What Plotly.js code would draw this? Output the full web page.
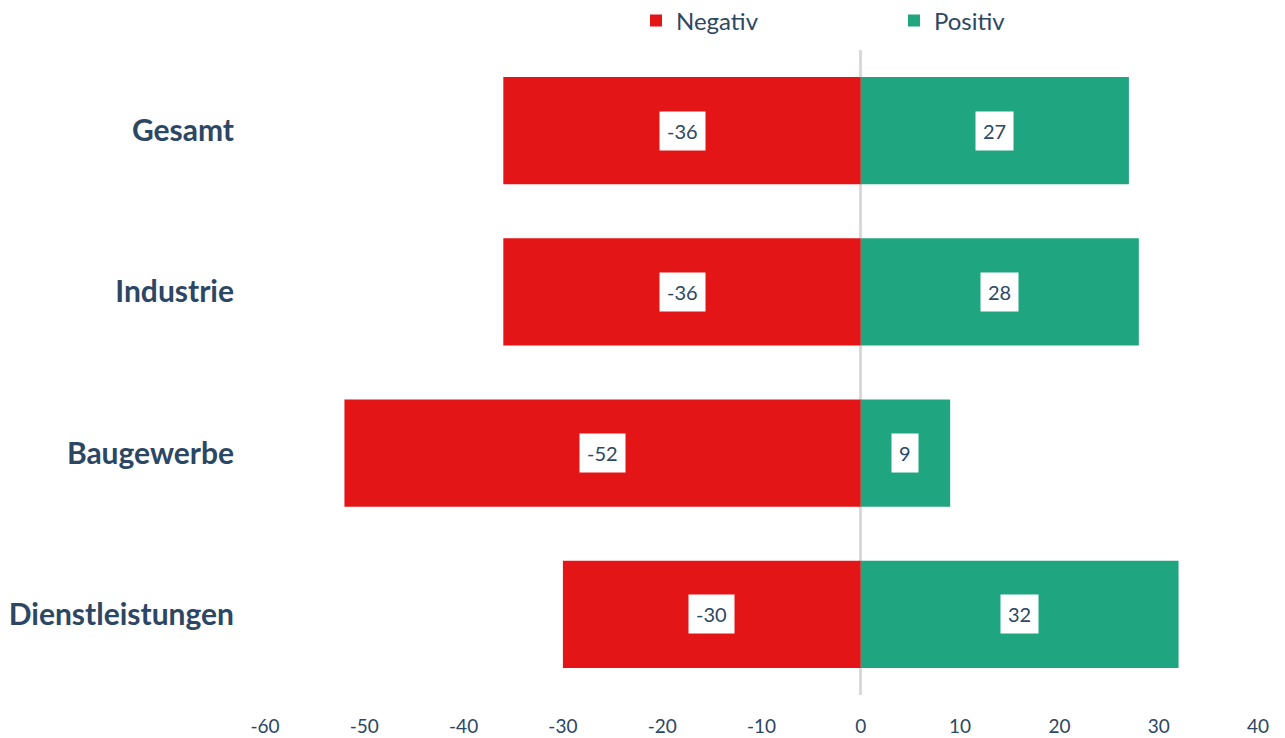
<!DOCTYPE html>
<html><head><meta charset="utf-8">
<script src="https://cdn.plot.ly/plotly-3.0.1.min.js"></script>
<style>html,body{margin:0;padding:0;background:#fff}#c{width:1285px;height:738px}</style>
</head><body><div id="c"></div>
<script>
const categories = ["Gesamt", "Industrie", "Baugewerbe", "Dienstleistungen"];
const negativ = [-36, -36, -52, -30];
const positiv = [27, 28, 9, 32];
const tickVals = [-60, -50, -40, -30, -20, -10, 0, 10, 20, 30, 40];
const tickText = ["-60", "-50", "-40", "-30", "-20", "-10", "0", "10", "20", "30", "40"];

const textColor = "#2c4763";
const font = "Lato, 'Open Sans', sans-serif";

const traces = [
  {type: "bar", orientation: "h", name: "Negativ", y: categories, x: negativ,
   marker: {color: "#e31516"}, width: 0.665, hoverinfo: "x"},
  {type: "bar", orientation: "h", name: "Positiv", y: categories, x: positiv,
   marker: {color: "#1fa681"}, width: 0.665, hoverinfo: "x"}
];

const annotations = [];
[negativ, positiv].forEach(arr => {
  arr.forEach((v, i) => {
    annotations.push({x: v / 2, y: categories[i], xref: "x", yref: "y", text: String(v),
      showarrow: false, bgcolor: "#ffffff", borderpad: 7,
      font: {family: font, size: 20, color: textColor}});
  });
});

const layout = {
  width: 1285, height: 738,
  margin: {l: 265, r: 27, t: 50, b: 43, autoexpand: false},
  paper_bgcolor: "#fff", plot_bgcolor: "#fff",
  barmode: "relative",
  showlegend: true,
  legend: {orientation: "h", x: 0.3736, xanchor: "left", y: 1.045, yanchor: "middle",
    font: {family: font, size: 24, color: textColor}, itemwidth: 30,
    tracegroupgap: 0, entrywidth: 213, entrywidthmode: "pixels"},
  xaxis: {range: [-60, 40], tickvals: tickVals, ticktext: tickText, showgrid: false, zeroline: true,
    zerolinecolor: "#d9d9d9", zerolinewidth: 3, layer: "above traces",
    showline: false, ticks: "outside", ticklen: 14, tickcolor: "rgba(0,0,0,0)",
    tickfont: {family: font, size: 19, color: textColor},
    fixedrange: true},
  yaxis: {autorange: "reversed", showgrid: false, zeroline: false, showline: false,
    ticks: "outside", ticklen: 24, tickcolor: "rgba(0,0,0,0)",
    tickfont: {family: font, size: 30, color: textColor, weight: "bold"},
    fixedrange: true},
  annotations: annotations
};

Plotly.newPlot("c", traces, layout, {displayModeBar: false, staticPlot: true});
</script>
</body></html>
